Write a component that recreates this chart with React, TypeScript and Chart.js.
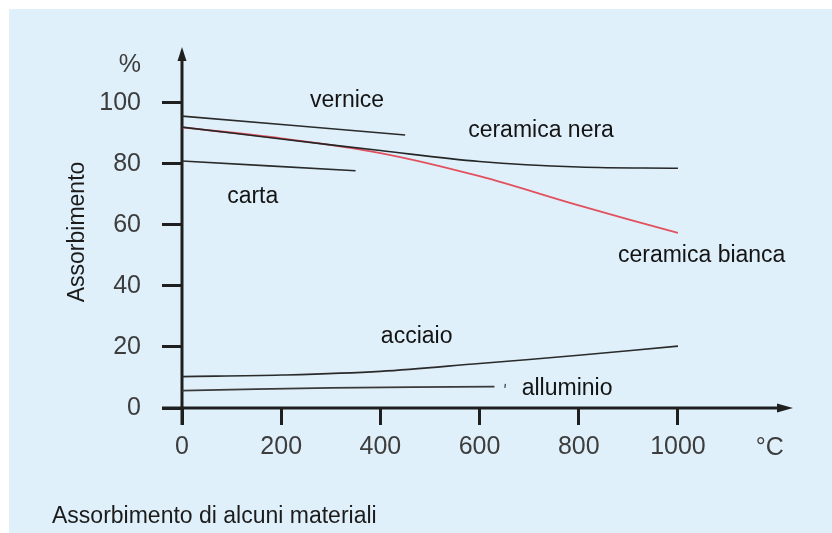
import React, { useEffect, useRef } from "react";
import { Chart, registerables } from "chart.js";

Chart.register(...registerables);

// ---- data (temperature °C, absorption %) ----
const verniceX = [0, 450];
const verniceY = [95.7, 89.5];

const cartaX = [0, 350];
const cartaY = [81, 77.8];

const ceramicaNeraX = [0, 200, 400, 600, 800, 1000];
const ceramicaNeraY = [92.1, 88.2, 84.4, 80.8, 79.0, 78.6];

const ceramicaBiancaX = [0, 200, 400, 600, 800, 1000];
const ceramicaBiancaY = [92.0, 88.4, 83.6, 76.0, 66.4, 57.4];

const acciaioX = [0, 200, 400, 600, 800, 1000];
const acciaioY = [10.3, 10.8, 12.0, 14.6, 17.3, 20.3];

const alluminioX = [0, 300, 630];
const alluminioY = [5.7, 6.6, 7.0];

const segnoX = [651, 652];
const segnoY = [6.6, 7.9];

const xTicks = [0, 200, 400, 600, 800, 1000];
const yTicks = [0, 20, 40, 60, 80, 100];

// curve labels: text, anchor in data units (left / baseline)
const labelTexts = ["vernice", "ceramica nera", "carta", "ceramica bianca", "acciaio", "alluminio"];
const labelXs = [258, 577, 91, 879, 401, 685];
const labelYs = [98.7, 88.9, 67.2, 47.9, 21.3, 4.3];

const yUnit = "%";
const xUnit = "°C";
const yTitle = "Assorbimento";
const caption = "Assorbimento di alcuni materiali";

const pts = (xs: number[], ys: number[]) => xs.map((x, i) => ({ x, y: ys[i] }));

const PANEL = "#dff0fa";
const INK = "#1f1f1f";
const TICK_TEXT = "#3d3d3d";
const FONT = "'Liberation Sans', Arial, sans-serif";

const decor = {
  id: "decor",
  beforeDraw(chart: any) {
    const { ctx, width, height } = chart;
    ctx.save();
    ctx.fillStyle = "#ffffff";
    ctx.fillRect(0, 0, width, height);
    ctx.fillStyle = PANEL;
    ctx.fillRect(9, 9, width - 9, height - 9);
    ctx.restore();
  },
  beforeDatasetsDraw(chart: any) {
    const { ctx, chartArea } = chart;
    const xs = chart.scales.x;
    const ys = chart.scales.y;
    const x0 = xs.getPixelForValue(0);
    const y0 = ys.getPixelForValue(0);
    ctx.save();
    ctx.strokeStyle = INK;
    ctx.fillStyle = INK;
    ctx.lineWidth = 3;
    // y axis
    ctx.beginPath();
    ctx.moveTo(x0, y0 + 17);
    ctx.lineTo(x0, chartArea.top + 10);
    ctx.stroke();
    ctx.beginPath();
    ctx.moveTo(x0, chartArea.top);
    ctx.lineTo(x0 - 4.5, chartArea.top + 14);
    ctx.lineTo(x0 + 4.5, chartArea.top + 14);
    ctx.closePath();
    ctx.fill();
    // x axis
    ctx.beginPath();
    ctx.moveTo(x0 - 20, y0);
    ctx.lineTo(chartArea.right - 10, y0);
    ctx.stroke();
    ctx.beginPath();
    ctx.moveTo(chartArea.right, y0);
    ctx.lineTo(chartArea.right - 16, y0 - 4.5);
    ctx.lineTo(chartArea.right - 16, y0 + 4.5);
    ctx.closePath();
    ctx.fill();
    ctx.restore();
  },
  afterDraw(chart: any) {
    const { ctx } = chart;
    const xs = chart.scales.x;
    const ys = chart.scales.y;
    ctx.save();
    // unit labels
    ctx.fillStyle = TICK_TEXT;
    ctx.font = `25px ${FONT}`;
    ctx.textBaseline = "middle";
    ctx.textAlign = "right";
    ctx.fillText(yUnit, xs.getPixelForValue(0) - 41, ys.getPixelForValue(112.5));
    ctx.textAlign = "center";
    ctx.fillText(xUnit, xs.getPixelForValue(1185), 448);
    // y title
    ctx.fillStyle = "#1c1c1c";
    ctx.font = `23px ${FONT}`;
    ctx.save();
    ctx.translate(78, 232);
    ctx.rotate(-Math.PI / 2);
    ctx.textAlign = "center";
    ctx.textBaseline = "middle";
    ctx.fillText(yTitle, 0, 0);
    ctx.restore();
    // caption
    ctx.textAlign = "left";
    ctx.textBaseline = "alphabetic";
    ctx.fillText(caption, 52, 523);
    // curve labels
    ctx.fillStyle = "#141414";
    labelTexts.forEach((t, i) => {
      ctx.fillText(t, xs.getPixelForValue(labelXs[i]), ys.getPixelForValue(labelYs[i]));
    });
    ctx.restore();
  },
};

export default function App() {
  const ref = useRef<HTMLCanvasElement | null>(null);

  useEffect(() => {
    if (!ref.current) return;
    const line = (label: string, data: any[], color: string, width = 1.6) => ({
      label,
      data,
      borderColor: color,
      borderWidth: width,
      pointRadius: 0,
      fill: false,
      tension: 0.35,
    });
    const chart = new Chart(ref.current, {
      type: "line",
      data: {
        datasets: [
          line("vernice", pts(verniceX, verniceY), "#2a2a2a"),
          line("carta", pts(cartaX, cartaY), "#2a2a2a"),
          line("ceramica nera", pts(ceramicaNeraX, ceramicaNeraY), "#262626"),
          line("ceramica bianca", pts(ceramicaBiancaX, ceramicaBiancaY), "#e2505e", 1.8),
          line("acciaio", pts(acciaioX, acciaioY), "#2a2a2a"),
          line("alluminio", pts(alluminioX, alluminioY), "#3a3a3a"),
          line("segno", pts(segnoX, segnoY), "#3a3a3a", 1.2),
        ],
      },
      options: {
        animation: false,
        responsive: true,
        maintainAspectRatio: false,
        layout: { padding: { left: 0, top: 47, right: 39, bottom: 0 } },
        plugins: { legend: { display: false }, tooltip: { enabled: false } },
        scales: {
          x: {
            type: "linear",
            min: 0,
            max: 1232,
            border: { display: false },
            grid: {
              drawOnChartArea: false,
              drawTicks: true,
              tickLength: 17,
              tickWidth: 3,
              tickColor: INK,
            },
            ticks: {
              stepSize: 200,
              padding: 7,
              color: TICK_TEXT,
              font: { family: FONT, size: 25 },
              maxRotation: 0,
              callback: (v: any) => String(v),
            },
            afterBuildTicks: (s: any) => {
              s.ticks = xTicks.map((v) => ({ value: v }));
            },
            afterFit: (s: any) => {
              s.height = 125;
            },
          },
          y: {
            type: "linear",
            min: 0,
            max: 118.36,
            border: { display: false },
            grid: {
              drawOnChartArea: false,
              drawTicks: true,
              tickLength: 20,
              tickWidth: 3,
              tickColor: INK,
            },
            ticks: {
              stepSize: 20,
              padding: 21,
              color: TICK_TEXT,
              font: { family: FONT, size: 25 },
              callback: (v: any) => String(v),
            },
            afterBuildTicks: (s: any) => {
              s.ticks = yTicks.map((v) => ({ value: v }));
            },
            afterFit: (s: any) => {
              s.width = 182;
            },
          },
        },
      },
      plugins: [decor],
    });
    return () => chart.destroy();
  }, []);

  return (
    <div style={{ position: "fixed", left: 0, top: 0, width: 832, height: 533 }}>
      <canvas ref={ref} />
    </div>
  );
}
